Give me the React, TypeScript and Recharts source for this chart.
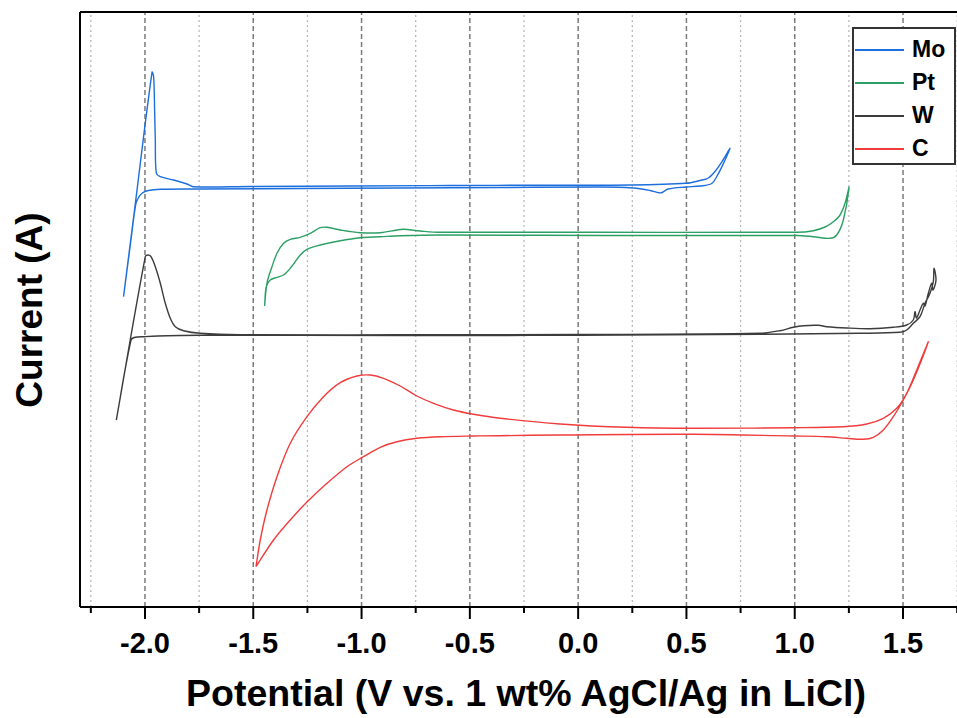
import React from 'react';
import {LineChart, Line, XAxis, YAxis, ReferenceLine, Legend} from 'recharts';

// cyclic voltammograms, [potential V, current (offset, arb.)] in scan order
const MO: [number, number][] = [
  [-2.099, 3.103], [-2.046, 4.01], [-1.9675, 5.347], [-1.96, 5.303], [-1.9555, 4.97],
  [-1.9523, 4.67], [-1.9477, 4.34], [-1.9292, 4.303], [-1.8678, 4.27], [-1.806, 4.23],
  [-1.777, 4.203], [-1.514, 4.205], [-1.052, 4.21], [-0.591, 4.215], [-0.129, 4.218],
  [0.24, 4.22], [0.4985, 4.237], [0.563, 4.265], [0.6014, 4.29], [0.637, 4.37],
  [0.669, 4.47], [0.7015, 4.587], [0.674, 4.45], [0.6415, 4.31], [0.617, 4.235],
  [0.563, 4.21], [0.4985, 4.2], [0.4154, 4.18], [0.3877, 4.145], [0.3738, 4.142],
  [0.3323, 4.165], [0.2538, 4.19], [0.1015, 4.2], [-0.36, 4.195], [-0.8215, 4.19],
  [-1.283, 4.185], [-1.7446, 4.18], [-1.9292, 4.177], [-1.9846, 4.165], [-2.0123, 4.14],
  [-2.0308, 4.09], [-2.0423, 4.03], [-2.0677, 3.62], [-2.099, 3.103],
];

const PT: [number, number][] = [
  [-1.4478, 3.01], [-1.4368, 3.237], [-1.4137, 3.403], [-1.3906, 3.537], [-1.3601, 3.637],
  [-1.3292, 3.677], [-1.2831, 3.697], [-1.2369, 3.737], [-1.1908, 3.793], [-1.1598, 3.797],
  [-1.0985, 3.77], [-1.0062, 3.743], [-0.9138, 3.743], [-0.8368, 3.77], [-0.8063, 3.777],
  [-0.7292, 3.76], [-0.6369, 3.747], [0.1015, 3.748], [1.0094, 3.747], [1.086, 3.763],
  [1.14, 3.8], [1.1783, 3.853], [1.2092, 3.92], [1.2323, 4.037], [1.2508, 4.197],
  [1.2245, 3.87], [1.194, 3.72], [1.1631, 3.687], [1.086, 3.703], [1.0094, 3.715],
  [0.1015, 3.715], [-0.6369, 3.72], [-0.8215, 3.713], [-0.9138, 3.703], [-1.0062, 3.693],
  [-1.0985, 3.663], [-1.1908, 3.62], [-1.2521, 3.577], [-1.2831, 3.52], [-1.3292, 3.387],
  [-1.3601, 3.32], [-1.3906, 3.297], [-1.4215, 3.27], [-1.44, 3.203], [-1.4478, 3.01],
];

const W: [number, number][] = [
  [-2.1323, 1.87], [-1.9985, 3.503], [-1.986, 3.52], [-1.9721, 3.503], [-1.9523, 3.403],
  [-1.9292, 3.237], [-1.9062, 3.037], [-1.8831, 2.887], [-1.86, 2.803], [-1.8217, 2.763],
  [-1.7446, 2.737], [-1.56, 2.723], [-0.8215, 2.722], [0.0, 2.725], [0.84, 2.737],
  [0.9323, 2.763], [0.9937, 2.797], [1.0398, 2.813], [1.1091, 2.817], [1.1478, 2.803],
  [1.2401, 2.79], [1.3477, 2.783], [1.4552, 2.797], [1.5171, 2.82], [1.5475, 2.87],
  [1.5554, 2.953], [1.5623, 2.89], [1.5785, 2.97], [1.5937, 3.037], [1.6015, 3.01],
  [1.6168, 3.137], [1.6325, 3.237], [1.6385, 3.17], [1.6523, 3.27], [1.643, 3.387],
  [1.64, 3.253], [1.6246, 3.137], [1.6015, 3.037], [1.5785, 2.903], [1.5475, 2.837],
  [1.5171, 2.77], [1.4861, 2.747], [1.3015, 2.737], [0.84, 2.727], [0.0, 2.717],
  [-0.8215, 2.715], [-1.56, 2.717], [-1.7446, 2.717], [-1.8983, 2.713], [-2.0063, 2.703],
  [-2.0446, 2.697], [-2.0644, 2.67], [-2.1323, 1.87],
];

const C: [number, number][] = [
  [-1.4875, 0.403], [-1.4677, 0.67], [-1.4368, 0.97], [-1.3906, 1.303], [-1.3292, 1.637],
  [-1.2521, 1.903], [-1.1755, 2.103], [-1.0985, 2.243], [-1.0214, 2.31], [-0.96, 2.32],
  [-0.8986, 2.287], [-0.8215, 2.21], [-0.7445, 2.11], [-0.6678, 2.037], [-0.5755, 1.97],
  [-0.4832, 1.927], [-0.36, 1.887], [-0.0831, 1.83], [0.2248, 1.797], [0.5322, 1.787],
  [0.9937, 1.793], [1.2245, 1.803], [1.3324, 1.83], [1.4091, 1.887], [1.4709, 1.987],
  [1.5171, 2.137], [1.5632, 2.37], [1.6168, 2.653], [1.5475, 2.27], [1.5014, 2.07],
  [1.4552, 1.903], [1.4091, 1.77], [1.3629, 1.697], [1.3168, 1.677], [1.2401, 1.687],
  [1.1478, 1.703], [0.9937, 1.71], [0.5322, 1.727], [-0.0831, 1.72], [-0.36, 1.713],
  [-0.4832, 1.71], [-0.6369, 1.703], [-0.7445, 1.687], [-0.8368, 1.653], [-0.9138, 1.597],
  [-0.9909, 1.503], [-1.0675, 1.403], [-1.1598, 1.237], [-1.2521, 1.05], [-1.3292, 0.87],
  [-1.4063, 0.67], [-1.4875, 0.403],
];

const MAJOR_TICKS = [-2.0, -1.5, -1.0, -0.5, 0.0, 0.5, 1.0, 1.5];
const MINOR_TICKS = [-2.25, -1.75, -1.25, -0.75, -0.25, 0.25, 0.75, 1.25, 1.75];
const X_DOMAIN: [number, number] = [-2.3, 1.8];
const Y_DOMAIN: [number, number] = [0, 5.95];

const SERIES = [
  {name: 'Mo', points: MO, color: '#1d6fdd'},
  {name: 'Pt', points: PT, color: '#2ca064'},
  {name: 'W', points: W, color: '#3c3c3c'},
  {name: 'C', points: C, color: '#f03c3c'},
];

const FONT = '"Liberation Sans", Arial, sans-serif';

const toRows = (pts: [number, number][]) => pts.map(([v, i]) => ({v, i}));

const isMajor = (v: number) => Math.abs(v * 2 - Math.round(v * 2)) < 1e-6;

// chord-length catmull-rom, so the loops stay smooth without overshooting at the turns
class SmoothLoop {
  _ctx: any;
  _pts: number[][] = [];
  constructor(ctx: any) {
    this._ctx = ctx;
  }
  areaStart() {}
  areaEnd() {}
  lineStart() {
    this._pts = [];
  }
  point(x: number, y: number) {
    this._pts.push([+x, +y]);
  }
  lineEnd() {
    const p = this._pts;
    const ctx = this._ctx;
    if (!p.length) return;
    ctx.moveTo(p[0][0], p[0][1]);
    const dist = (a: number[], b: number[]) => Math.hypot(b[0] - a[0], b[1] - a[1]) || 1e-6;
    const tangent = (k: number) => {
      const a = p[Math.max(k - 1, 0)];
      const c = p[Math.min(k + 1, p.length - 1)];
      const d = dist(a, p[k]) + dist(p[k], c);
      return [(c[0] - a[0]) / d, (c[1] - a[1]) / d];
    };
    for (let k = 0; k < p.length - 1; k++) {
      const b = p[k];
      const c = p[k + 1];
      const seg = dist(b, c) / 3;
      const t1 = tangent(k);
      const t2 = tangent(k + 1);
      ctx.bezierCurveTo(b[0] + t1[0] * seg, b[1] + t1[1] * seg, c[0] - t2[0] * seg, c[1] - t2[1] * seg, c[0], c[1]);
    }
  }
}
const smoothLoop: any = (ctx: any) => new SmoothLoop(ctx);

const XTick = (props: any) => {
  const {x, y, payload} = props;
  const major = isMajor(payload.value);
  return (
    <g>
      <line x1={x} y1={y} x2={x} y2={y + (major ? 12 : 6)} stroke="#000" strokeWidth={2} />
      {major && (
        <text x={x} y={y + 46} textAnchor="middle" fontSize={29} fontWeight="bold" fontFamily={FONT} fill="#000">
          {payload.value.toFixed(1)}
        </text>
      )}
    </g>
  );
};

const renderLegend = (props: any) => {
  const order = SERIES.map(s => s.name);
  const items = [...(props.payload || [])].sort((a: any, b: any) => order.indexOf(a.value) - order.indexOf(b.value));
  return (
    <div style={{position: 'relative', width: 100, height: 134, border: '2px solid #333', background: '#fff', fontFamily: FONT}}>
      {items.map((it: any, idx: number) => (
        <div key={it.value} style={{position: 'absolute', left: 0, top: 4 + idx * 33, height: 33, display: 'flex', alignItems: 'center'}}>
          <div style={{width: 49, height: 0, borderTop: `2px solid ${it.color}`, marginLeft: 1}} />
          <span style={{marginLeft: 8, fontSize: 23, fontWeight: 'bold', color: '#000', lineHeight: '33px'}}>{it.value}</span>
        </div>
      ))}
    </div>
  );
};

const App = () => (
  <div style={{position: 'absolute', left: 0, top: 0, width: 957, height: 718, overflow: 'hidden', background: '#fff'}}>
    <LineChart width={968} height={718} margin={{top: 12, right: 0, bottom: 0, left: 0}}>
      <XAxis
        dataKey="v"
        type="number"
        domain={X_DOMAIN}
        allowDataOverflow
        ticks={[...MAJOR_TICKS, ...MINOR_TICKS].sort((a, b) => a - b)}
        interval={0}
        tickSize={0}
        tickMargin={0}
        tick={<XTick />}
        tickLine={false}
        height={111}
        axisLine={{stroke: '#000', strokeWidth: 2}}
        label={{
          value: 'Potential (V vs. 1 wt% AgCl/Ag in LiCl)',
          position: 'insideBottom',
          offset: 12,
          dx: 2,
          style: {fontSize: 37.5, fontWeight: 'bold', fontFamily: FONT, fill: '#000'},
        }}
      />
      <YAxis
        type="number"
        domain={Y_DOMAIN}
        allowDataOverflow
        width={80}
        tick={false}
        tickLine={false}
        axisLine={{stroke: '#000', strokeWidth: 2}}
        label={{
          content: () => (
            <text
              x={0}
              y={0}
              transform="translate(42, 310) rotate(-90)"
              textAnchor="middle"
              fontSize={37}
              fontWeight="bold"
              fontFamily={FONT}
              fill="#000"
            >
              Current (A)
            </text>
          ),
        }}
      />
      {MINOR_TICKS.map(t => (
        <ReferenceLine key={'m' + t} x={t} stroke="#b4b4b4" strokeWidth={1.2} strokeDasharray="2 3" />
      ))}
      {MAJOR_TICKS.map(t => (
        <ReferenceLine key={'M' + t} x={t} stroke="#7a7a7a" strokeWidth={1.5} strokeDasharray="5 3" />
      ))}
      <ReferenceLine y={Y_DOMAIN[1]} stroke="#000" strokeWidth={2} />
      {SERIES.map(s => (
        <Line
          key={s.name}
          name={s.name}
          data={toRows(s.points)}
          dataKey="i"
          type={smoothLoop}
          stroke={s.color}
          strokeWidth={1.4}
          dot={false}
          activeDot={false}
          isAnimationActive={false}
        />
      ))}
      <Legend
        layout="vertical"
        align="center"
        verticalAlign="middle"
        content={renderLegend}
        wrapperStyle={{left: 852, top: 27, width: 104, height: 138}}
      />
    </LineChart>
  </div>
);

export default App;
